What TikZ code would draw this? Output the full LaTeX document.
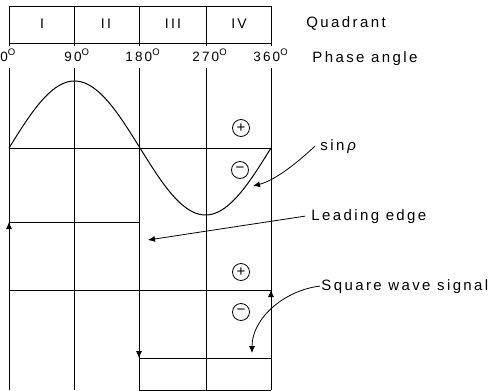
\documentclass[tikz,border=0pt]{standalone}
\usepackage{fontspec}
\setmainfont{Liberation Sans}[LetterSpace=16]
\usetikzlibrary{arrows.meta}
\newcommand{\degsup}{\raisebox{5.5pt}{\fontsize{9.5}{10}\selectfont O}}
\begin{document}
\begin{tikzpicture}[x=1pt,y=-1pt,line width=0.85pt,
  lbl/.style={font=\fontsize{15}{18}\selectfont,anchor=base west,inner ysep=0pt,inner xsep=0pt},
  deg/.style={font=\fontsize{13.5}{15}\selectfont,anchor=base west,inner sep=0pt},
  quad/.style={font=\fontsize{14}{16}\selectfont,inner sep=0pt},
  sign/.style={circle,draw,line width=0.8pt,minimum size=17pt,inner sep=0pt,font=\fontsize{15}{15}\selectfont},
  tip/.style={-{Latex[length=7pt,width=6pt]}},
  lead/.style={line width=0.8pt,-{Latex[length=7pt,width=6pt]}}]
\useasboundingbox (0,0) rectangle (496,391);
% quadrant box
\draw (9,6) rectangle (271,43);
\foreach \x in {74,139,206} \draw (\x,6) -- (\x,46);
\foreach \x in {9,271} \draw (\x,43) -- (\x,46);
\node[quad] (q1) at (42,24) {I};
\node[quad] (q2) at (106,24) {II};
\node[quad] (q3) at (173,24) {III};
\node[quad] (q4) at (239,24) {IV};
% degree labels
\node[deg] (d0) at (0,61) {0\degsup};
\node[deg] (d90) at (64,61) {90\degsup};
\node[deg] (d180) at (125,61) {180\degsup};
\node[deg] (d270) at (192,61) {270\degsup};
\node[deg] (d360) at (253,61) {360\degsup};
\node[lbl] (quadlbl) at (306,27.5) {Quadrant};
\node[lbl] (phaselbl) at (312,62) {Phase angle};
% grid
\foreach \x in {9,74,139,206,271} \draw (\x,68) -- (\x,390);
\draw (9,148) -- (271,148);
\draw (9,222) -- (139,222);
\draw (9,290) -- (271,290);
\draw (139,358) -- (271,358);
\draw (139,390) -- (271,390);
% sine
\draw[line width=1pt] plot[domain=0:360,samples=91,smooth] ({9+\x*0.727778},{148-67*sin(\x)});
% square wave arrows
\draw[tip] (9,232) -- (9,222);
\draw[tip] (139,346) -- (139,358);
\draw[tip] (271,302) -- (271,290);
% signs
\node[sign] (p1) at (241,128) {+};
\node[sign] (m1) at (240,170) {−};
\node[sign] (p2) at (241,272) {+};
\node[sign] (m2) at (241,312) {−};
% labels and leaders
\node[lbl,inner xsep=5pt] (sinlbl) at (315,150) {sin\hspace{3pt}{\itshape ρ}};
\node[lbl,inner xsep=6pt] (leadlbl) at (305,220) {Leading edge};
\node[lbl,inner xsep=1pt] (sqlbl) at (320,290) {Square wave signal};
\coordinate (sinend) at (253,186);
\coordinate (leadend) at (148,240);
\coordinate (sqend) at (252,353);
\draw[lead] (sinlbl.west) .. controls (298,162) and (276,180) .. (sinend);
\draw[lead] (leadlbl.west) -- (leadend);
\draw[lead] (sqlbl.west) .. controls (285,290) and (252,318) .. (sqend);
\end{tikzpicture}
\end{document}
